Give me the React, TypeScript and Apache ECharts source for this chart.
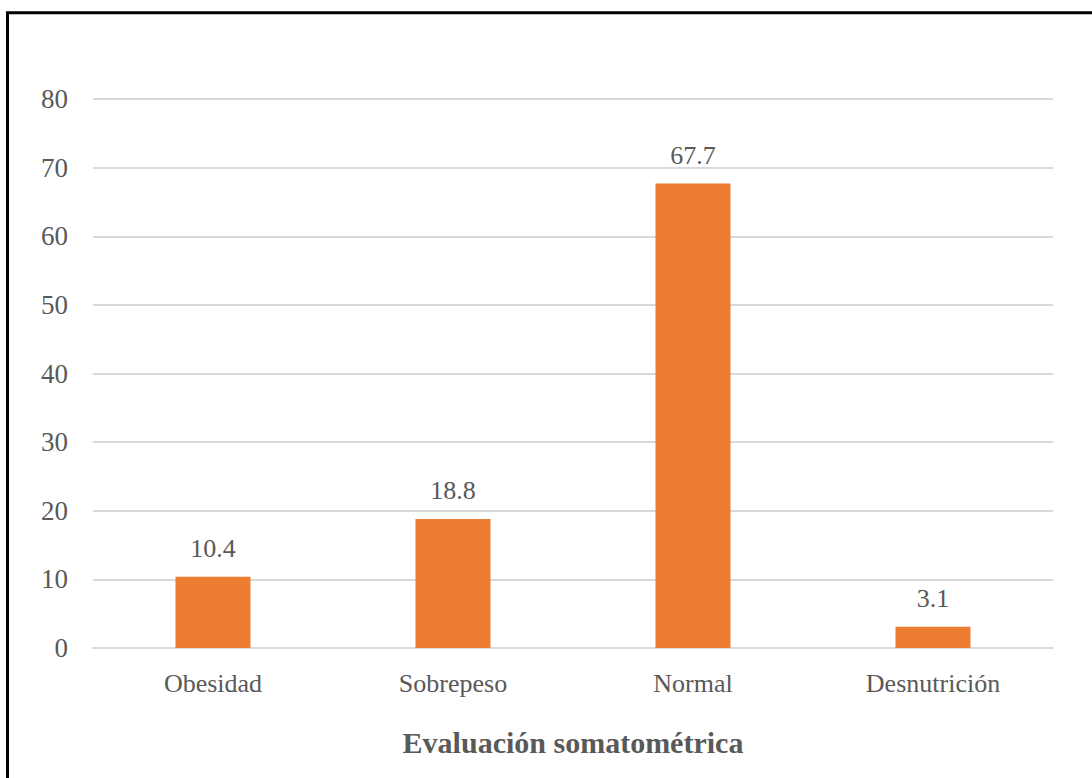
import React, { useEffect, useRef } from "react";
import * as echarts from "echarts";

const categories = ["Obesidad", "Sobrepeso", "Normal", "Desnutrición"];
const values = [10.4, 18.8, 67.7, 3.1];
const yTicks = [0, 10, 20, 30, 40, 50, 60, 70, 80];
const axisTitle = "Evaluación somatométrica";

const FONT = "'Liberation Serif', 'Times New Roman', serif";
const TEXT = "#595959";

export default function App() {
  const ref = useRef<HTMLDivElement>(null);
  useEffect(() => {
    if (!ref.current) return;
    const chart = echarts.init(ref.current, undefined, { renderer: "svg" });
    chart.setOption({
      animation: false,
      backgroundColor: "#ffffff",
      textStyle: { fontFamily: FONT },
      grid: { left: 93, right: 39, top: 99, bottom: 130, containLabel: false },
      graphic: [
        {
          type: "rect",
          shape: { x: 7.5, y: 12.8, width: 1200, height: 1000 },
          style: { fill: "none", stroke: "#000000", lineWidth: 3 },
          silent: true,
          z: 100,
        },
      ],
      xAxis: {
        type: "category",
        data: categories,
        axisTick: { show: false },
        axisLine: { show: true, lineStyle: { color: "#d9d9d9", width: 2 } },
        axisLabel: { color: TEXT, fontSize: 26, fontFamily: FONT, margin: 22 },
        name: axisTitle,
        nameLocation: "middle",
        nameGap: 79,
        nameTextStyle: { color: TEXT, fontSize: 30, fontWeight: "bold", fontFamily: FONT },
      },
      yAxis: {
        type: "value",
        min: yTicks[0],
        max: yTicks[yTicks.length - 1],
        interval: yTicks[1] - yTicks[0],
        axisLine: { show: false },
        axisTick: { show: false },
        axisLabel: { color: TEXT, fontSize: 27, fontFamily: FONT, margin: 25 },
        splitLine: { lineStyle: { color: "#d9d9d9", width: 2 } },
      },
      series: [
        {
          type: "bar",
          data: values,
          barWidth: 75,
          itemStyle: { color: "#ED7D31" },
          label: {
            show: true,
            position: "top",
            distance: 15,
            color: TEXT,
            fontSize: 26,
            fontFamily: FONT,
            formatter: (p: any) => p.value.toFixed(1),
          },
        },
      ],
    });
    return () => chart.dispose();
  }, []);
  return (
    <div
      ref={ref}
      style={{ position: "absolute", left: 0, top: 0, width: 1092, height: 778 }}
    />
  );
}
